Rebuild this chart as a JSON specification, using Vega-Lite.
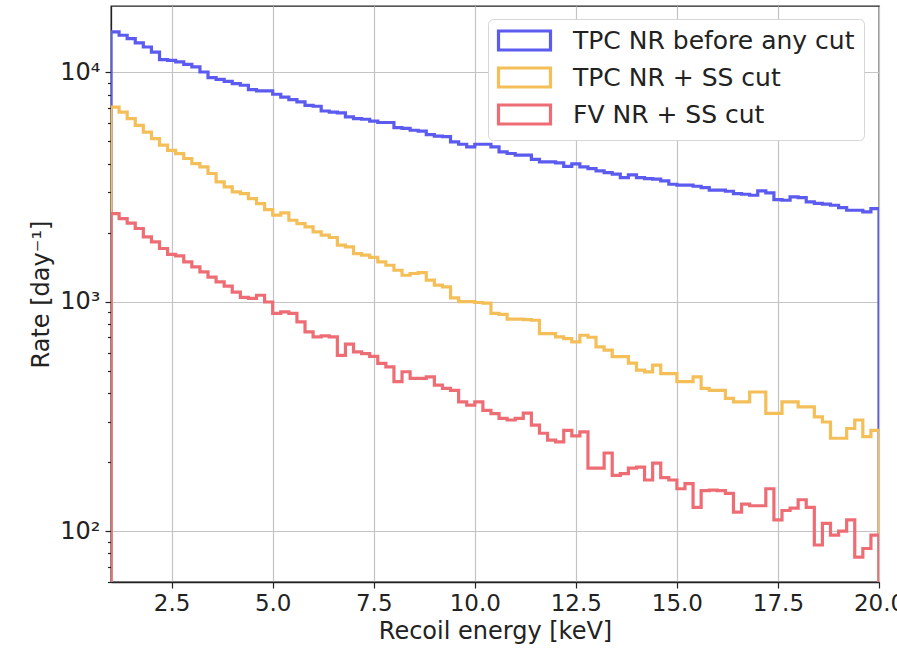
{
 "$schema": "https://vega.github.io/schema/vega-lite/v6.json",
 "width": 768, "height": 576,
 "autosize": {"type": "none"},
 "padding": {"left": 111, "top": 6, "right": 18, "bottom": 81},
 "background": "white",
 "config": {
  "font": "DejaVu Sans",
  "view": {"stroke": "#222", "strokeWidth": 1.3},
  "axis": {"domainColor": "#222", "domainWidth": 1.3, "tickColor": "#222", "tickWidth": 1.2, "labelColor": "#222", "titleColor": "#222", "titleFontWeight": "normal", "gridColor": "#c4c4c4", "gridWidth": 1.2}
 },
 "data": {"values": [
  {"e":1,"TPC NR before any cut":1,"TPC NR + SS cut":1,"FV NR + SS cut":1},
  {"e":1,"TPC NR before any cut":15000,"TPC NR + SS cut":7050,"FV NR + SS cut":2420},
  {"e":1.2,"TPC NR before any cut":14500,"TPC NR + SS cut":6710,"FV NR + SS cut":2300},
  {"e":1.4,"TPC NR before any cut":14020,"TPC NR + SS cut":6280,"FV NR + SS cut":2200},
  {"e":1.6,"TPC NR before any cut":13420,"TPC NR + SS cut":5870,"FV NR + SS cut":2085},
  {"e":1.8,"TPC NR before any cut":12890,"TPC NR + SS cut":5490,"FV NR + SS cut":1915},
  {"e":2,"TPC NR before any cut":12250,"TPC NR + SS cut":5140,"FV NR + SS cut":1823},
  {"e":2.2,"TPC NR before any cut":11350,"TPC NR + SS cut":4810,"FV NR + SS cut":1706},
  {"e":2.4,"TPC NR before any cut":11270,"TPC NR + SS cut":4570,"FV NR + SS cut":1607},
  {"e":2.6,"TPC NR before any cut":11090,"TPC NR + SS cut":4420,"FV NR + SS cut":1585},
  {"e":2.8,"TPC NR before any cut":10830,"TPC NR + SS cut":4210,"FV NR + SS cut":1490},
  {"e":3,"TPC NR before any cut":10550,"TPC NR + SS cut":4000,"FV NR + SS cut":1418},
  {"e":3.2,"TPC NR before any cut":10030,"TPC NR + SS cut":3870,"FV NR + SS cut":1350},
  {"e":3.4,"TPC NR before any cut":9480,"TPC NR + SS cut":3620,"FV NR + SS cut":1280},
  {"e":3.6,"TPC NR before any cut":9320,"TPC NR + SS cut":3330,"FV NR + SS cut":1220},
  {"e":3.8,"TPC NR before any cut":9130,"TPC NR + SS cut":3165,"FV NR + SS cut":1170},
  {"e":4,"TPC NR before any cut":8930,"TPC NR + SS cut":3010,"FV NR + SS cut":1100},
  {"e":4.2,"TPC NR before any cut":8780,"TPC NR + SS cut":2960,"FV NR + SS cut":1045},
  {"e":4.4,"TPC NR before any cut":8410,"TPC NR + SS cut":2815,"FV NR + SS cut":1033},
  {"e":4.6,"TPC NR before any cut":8290,"TPC NR + SS cut":2678,"FV NR + SS cut":1067},
  {"e":4.8,"TPC NR before any cut":8290,"TPC NR + SS cut":2520,"FV NR + SS cut":997},
  {"e":5,"TPC NR before any cut":8020,"TPC NR + SS cut":2384,"FV NR + SS cut":889},
  {"e":5.2,"TPC NR before any cut":7800,"TPC NR + SS cut":2440,"FV NR + SS cut":903},
  {"e":5.4,"TPC NR before any cut":7600,"TPC NR + SS cut":2265,"FV NR + SS cut":889},
  {"e":5.6,"TPC NR before any cut":7430,"TPC NR + SS cut":2190,"FV NR + SS cut":817},
  {"e":5.8,"TPC NR before any cut":7180,"TPC NR + SS cut":2120,"FV NR + SS cut":738},
  {"e":6,"TPC NR before any cut":7110,"TPC NR + SS cut":2015,"FV NR + SS cut":702},
  {"e":6.2,"TPC NR before any cut":6780,"TPC NR + SS cut":1950,"FV NR + SS cut":709},
  {"e":6.4,"TPC NR before any cut":6710,"TPC NR + SS cut":1905,"FV NR + SS cut":702},
  {"e":6.6,"TPC NR before any cut":6650,"TPC NR + SS cut":1763,"FV NR + SS cut":584},
  {"e":6.8,"TPC NR before any cut":6390,"TPC NR + SS cut":1733,"FV NR + SS cut":653},
  {"e":7,"TPC NR before any cut":6280,"TPC NR + SS cut":1621,"FV NR + SS cut":604},
  {"e":7.2,"TPC NR before any cut":6240,"TPC NR + SS cut":1595,"FV NR + SS cut":594},
  {"e":7.4,"TPC NR before any cut":6130,"TPC NR + SS cut":1560,"FV NR + SS cut":578},
  {"e":7.6,"TPC NR before any cut":6040,"TPC NR + SS cut":1490,"FV NR + SS cut":538},
  {"e":7.8,"TPC NR before any cut":6040,"TPC NR + SS cut":1442,"FV NR + SS cut":520},
  {"e":8,"TPC NR before any cut":5740,"TPC NR + SS cut":1371,"FV NR + SS cut":448},
  {"e":8.2,"TPC NR before any cut":5690,"TPC NR + SS cut":1304,"FV NR + SS cut":495},
  {"e":8.4,"TPC NR before any cut":5590,"TPC NR + SS cut":1327,"FV NR + SS cut":463},
  {"e":8.6,"TPC NR before any cut":5535,"TPC NR + SS cut":1340,"FV NR + SS cut":463},
  {"e":8.8,"TPC NR before any cut":5350,"TPC NR + SS cut":1241,"FV NR + SS cut":470},
  {"e":9,"TPC NR before any cut":5265,"TPC NR + SS cut":1181,"FV NR + SS cut":433},
  {"e":9.2,"TPC NR before any cut":5240,"TPC NR + SS cut":1160,"FV NR + SS cut":419},
  {"e":9.4,"TPC NR before any cut":4970,"TPC NR + SS cut":1040,"FV NR + SS cut":411},
  {"e":9.6,"TPC NR before any cut":4855,"TPC NR + SS cut":1000,"FV NR + SS cut":366},
  {"e":9.8,"TPC NR before any cut":4730,"TPC NR + SS cut":1000,"FV NR + SS cut":354},
  {"e":10,"TPC NR before any cut":4855,"TPC NR + SS cut":992,"FV NR + SS cut":366},
  {"e":10.2,"TPC NR before any cut":4855,"TPC NR + SS cut":985,"FV NR + SS cut":336},
  {"e":10.4,"TPC NR before any cut":4730,"TPC NR + SS cut":889,"FV NR + SS cut":325},
  {"e":10.6,"TPC NR before any cut":4500,"TPC NR + SS cut":880,"FV NR + SS cut":310},
  {"e":10.8,"TPC NR before any cut":4425,"TPC NR + SS cut":840,"FV NR + SS cut":305},
  {"e":11,"TPC NR before any cut":4350,"TPC NR + SS cut":840,"FV NR + SS cut":310},
  {"e":11.2,"TPC NR before any cut":4350,"TPC NR + SS cut":835,"FV NR + SS cut":327},
  {"e":11.4,"TPC NR before any cut":4170,"TPC NR + SS cut":830,"FV NR + SS cut":290},
  {"e":11.6,"TPC NR before any cut":4066,"TPC NR + SS cut":726,"FV NR + SS cut":267},
  {"e":11.8,"TPC NR before any cut":4066,"TPC NR + SS cut":726,"FV NR + SS cut":249},
  {"e":12,"TPC NR before any cut":4030,"TPC NR + SS cut":702,"FV NR + SS cut":245},
  {"e":12.2,"TPC NR before any cut":3890,"TPC NR + SS cut":690,"FV NR + SS cut":275},
  {"e":12.4,"TPC NR before any cut":3990,"TPC NR + SS cut":668,"FV NR + SS cut":260},
  {"e":12.6,"TPC NR before any cut":3870,"TPC NR + SS cut":714,"FV NR + SS cut":271},
  {"e":12.8,"TPC NR before any cut":3805,"TPC NR + SS cut":700,"FV NR + SS cut":188},
  {"e":13,"TPC NR before any cut":3715,"TPC NR + SS cut":635,"FV NR + SS cut":188},
  {"e":13.2,"TPC NR before any cut":3655,"TPC NR + SS cut":615,"FV NR + SS cut":219},
  {"e":13.4,"TPC NR before any cut":3595,"TPC NR + SS cut":576,"FV NR + SS cut":175},
  {"e":13.6,"TPC NR before any cut":3477,"TPC NR + SS cut":576,"FV NR + SS cut":178},
  {"e":13.8,"TPC NR before any cut":3570,"TPC NR + SS cut":540,"FV NR + SS cut":188},
  {"e":14,"TPC NR before any cut":3477,"TPC NR + SS cut":503,"FV NR + SS cut":190},
  {"e":14.2,"TPC NR before any cut":3440,"TPC NR + SS cut":494,"FV NR + SS cut":167},
  {"e":14.4,"TPC NR before any cut":3420,"TPC NR + SS cut":529,"FV NR + SS cut":198},
  {"e":14.6,"TPC NR before any cut":3360,"TPC NR + SS cut":486,"FV NR + SS cut":171},
  {"e":14.8,"TPC NR before any cut":3250,"TPC NR + SS cut":486,"FV NR + SS cut":167},
  {"e":15,"TPC NR before any cut":3220,"TPC NR + SS cut":448,"FV NR + SS cut":153},
  {"e":15.2,"TPC NR before any cut":3220,"TPC NR + SS cut":448,"FV NR + SS cut":161},
  {"e":15.4,"TPC NR before any cut":3185,"TPC NR + SS cut":470,"FV NR + SS cut":127},
  {"e":15.6,"TPC NR before any cut":3145,"TPC NR + SS cut":419,"FV NR + SS cut":150},
  {"e":15.8,"TPC NR before any cut":3065,"TPC NR + SS cut":411,"FV NR + SS cut":151},
  {"e":16,"TPC NR before any cut":3065,"TPC NR + SS cut":411,"FV NR + SS cut":150},
  {"e":16.2,"TPC NR before any cut":3030,"TPC NR + SS cut":379,"FV NR + SS cut":146},
  {"e":16.4,"TPC NR before any cut":2960,"TPC NR + SS cut":366,"FV NR + SS cut":121},
  {"e":16.6,"TPC NR before any cut":2940,"TPC NR + SS cut":366,"FV NR + SS cut":131},
  {"e":16.8,"TPC NR before any cut":2910,"TPC NR + SS cut":404,"FV NR + SS cut":129},
  {"e":17,"TPC NR before any cut":3040,"TPC NR + SS cut":404,"FV NR + SS cut":129},
  {"e":17.2,"TPC NR before any cut":2980,"TPC NR + SS cut":326,"FV NR + SS cut":153},
  {"e":17.4,"TPC NR before any cut":2787,"TPC NR + SS cut":326,"FV NR + SS cut":112},
  {"e":17.6,"TPC NR before any cut":2768,"TPC NR + SS cut":366,"FV NR + SS cut":123},
  {"e":17.8,"TPC NR before any cut":2864,"TPC NR + SS cut":366,"FV NR + SS cut":126},
  {"e":18,"TPC NR before any cut":2840,"TPC NR + SS cut":348,"FV NR + SS cut":137},
  {"e":18.2,"TPC NR before any cut":2722,"TPC NR + SS cut":348,"FV NR + SS cut":127},
  {"e":18.4,"TPC NR before any cut":2680,"TPC NR + SS cut":315,"FV NR + SS cut":87},
  {"e":18.6,"TPC NR before any cut":2660,"TPC NR + SS cut":299,"FV NR + SS cut":108},
  {"e":18.8,"TPC NR before any cut":2633,"TPC NR + SS cut":254,"FV NR + SS cut":96},
  {"e":19,"TPC NR before any cut":2570,"TPC NR + SS cut":254,"FV NR + SS cut":100},
  {"e":19.2,"TPC NR before any cut":2504,"TPC NR + SS cut":280,"FV NR + SS cut":112},
  {"e":19.4,"TPC NR before any cut":2504,"TPC NR + SS cut":305,"FV NR + SS cut":77},
  {"e":19.6,"TPC NR before any cut":2461,"TPC NR + SS cut":258,"FV NR + SS cut":84},
  {"e":19.8,"TPC NR before any cut":2546,"TPC NR + SS cut":275,"FV NR + SS cut":96},
  {"e":20,"TPC NR before any cut":2546,"TPC NR + SS cut":275,"FV NR + SS cut":96},
  {"e":20,"TPC NR before any cut":1,"TPC NR + SS cut":1,"FV NR + SS cut":1}
 ]},
 "transform": [{"fold": ["TPC NR before any cut", "TPC NR + SS cut", "FV NR + SS cut"], "as": ["s", "r"]}],
 "mark": {"type": "line", "interpolate": "step-after", "strokeWidth": 3.2, "clip": true},
 "encoding": {
  "x": {"field": "e", "type": "quantitative",
   "scale": {"domain": [1, 20], "nice": false, "zero": false},
   "axis": {"values": [2.5, 5, 7.5, 10, 12.5, 15, 17.5, 20], "format": ".1f", "title": "Recoil energy [keV]",
    "labelFontSize": 23, "titleFontSize": 24, "tickSize": 6, "labelPadding": 4, "titlePadding": 4, "labelOverlap": false, "labelFlush": false}},
  "y": {"field": "r", "type": "quantitative",
   "scale": {"type": "log", "domain": [60, 19450], "nice": false},
   "axis": {"values": [60, 70, 80, 90, 100, 200, 300, 400, 500, 600, 700, 800, 900, 1000, 2000, 3000, 4000, 5000, 6000, 7000, 8000, 9000, 10000],
    "labelExpr": "datum.value == 100 ? '10²' : datum.value == 1000 ? '10³' : datum.value == 10000 ? '10⁴' : ''",
    "tickSize": {"condition": {"test": "datum.value == 100 || datum.value == 1000 || datum.value == 10000", "value": 6}, "value": 3.5},
    "gridOpacity": {"condition": {"test": "datum.value == 100 || datum.value == 1000 || datum.value == 10000", "value": 1}, "value": 0},
    "labelFontSize": 24, "labelOverlap": false, "labelPadding": 5, "title": "Rate [day⁻¹]", "titleFontSize": 24, "titlePadding": 6}},
  "color": {"field": "s", "type": "nominal",
   "scale": {"domain": ["TPC NR before any cut", "TPC NR + SS cut", "FV NR + SS cut"], "range": ["#5b5bef", "#f4bf58", "#ee6d75"]},
   "legend": {"orient": "none", "legendX": 377, "legendY": 13, "title": null,
    "symbolType": "M-1.1,-0.95H4.1V0.95H-1.1Z", "symbolSize": 400, "symbolStrokeWidth": 3.2, "symbolFillColor": "white", "symbolOpacity": 1,
    "labelFontSize": 25, "labelLimit": 600, "labelColor": "#222", "labelOffset": 51, "rowPadding": 4, "padding": 9,
    "fillColor": "white", "strokeColor": "#d6d6d6", "cornerRadius": 5}}
 }
}
